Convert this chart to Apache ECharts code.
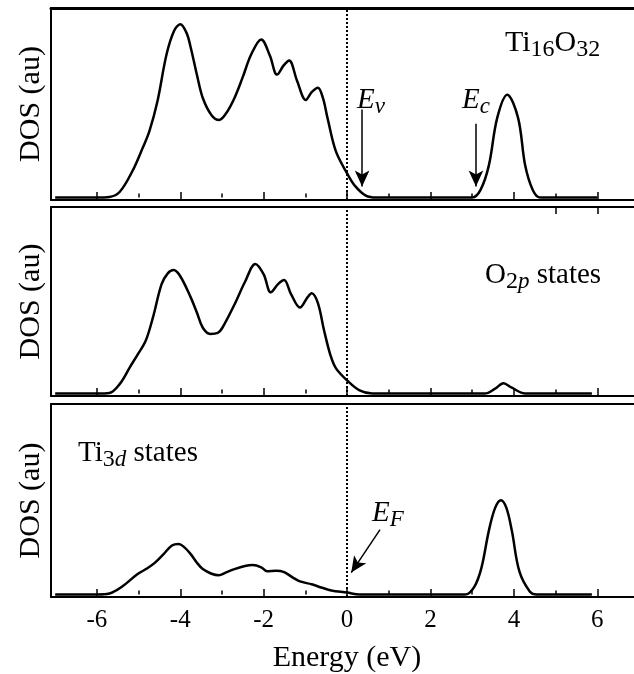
<!DOCTYPE html>
<html>
<head>
<meta charset="utf-8">
<script src="https://cdn.jsdelivr.net/npm/echarts@6/dist/echarts.min.js"></script>
<style>
    html, body { margin: 0; padding: 0; background: #fff; }
    #chartbox { width: 634px; height: 674px; }
</style>
</head>
<body>
<div id="chartbox"></div>
<script>
// energy (eV) and DOS (au), one pair of arrays per panel
const totalE = [-7.0,-6.0,-5.7,-5.45,-5.15,-4.9,-4.74,-4.55,-4.33,-4.15,-4.0,-3.85,-3.75,-3.6,-3.46,-3.25,-3.07,-2.9,-2.7,-2.5,-2.3,-2.06,-1.85,-1.68,-1.52,-1.39,-1.2,-0.99,-0.85,-0.7,-0.58,-0.47,-0.27,0,0.2,0.45,0.7,3.0,3.2,3.4,3.6,3.84,4.1,4.27,4.45,4.62,6.0];
const totalDos = [0,0,0.3,3,13.7,26,34.7,50,74.7,87,90.5,86,78.4,64,52,43,40.5,44,52,63,74.7,82.6,74,64.2,69,71.6,61,51,55,57.4,52,41.6,24.2,12.6,5.8,1,0,0,4,16.8,41.6,53.7,41.6,16.8,4,0,0];

const o2pE = [-7,-6,-5.7,-5.45,-5.2,-5.03,-4.83,-4.65,-4.45,-4.3,-4.16,-4.0,-3.75,-3.6,-3.46,-3.28,-3.1,-2.99,-2.7,-2.45,-2.2,-2.0,-1.83,-1.65,-1.51,-1.35,-1.13,-0.95,-0.85,-0.7,-0.55,-0.4,-0.27,0,0.3,0.6,3.3,3.55,3.75,3.95,4.27,5.87];
const o2pDos = [0,0,0.3,5,14,20,27.4,40,56.8,62.5,64.2,61,50,42,34.2,31,31.5,34.2,46.3,58,67.4,62,52.6,57,59,52,44.7,50,52.1,47,32.6,20,13.2,6.8,1.6,0,0,2.5,5.3,3,0,0];

const ti3dE = [-7,-6,-5.7,-5.4,-5.03,-4.8,-4.62,-4.4,-4.2,-4.04,-3.9,-3.75,-3.6,-3.46,-3.25,-3.08,-2.9,-2.7,-2.45,-2.26,-2.05,-1.92,-1.7,-1.51,-1.3,-1.13,-0.85,-0.6,-0.38,0,0.3,2.83,3.05,3.22,3.4,3.55,3.69,3.82,3.95,4.13,4.38,4.55,5.87];
const ti3dDos = [0,0,0.5,4,10.5,13.5,16.3,21,25.5,26.3,24.5,21,16.5,13.2,10.8,10,11.5,13.2,14.8,15.3,14,12.1,12.3,11.6,8.8,6.8,5.3,3.5,2.1,1,0,0,4,13.7,33.2,45,49,45,33.2,12.1,1.6,0,0];

const majorTicks = [-6,-4,-2,0,2,4,6];
const minorTicks = [-5,-3,-1,1,3,5];
const labelValues = [-6,-4,-2,0,2,4,6];

const font = "Liberation Serif";
const zip = (xs, ys) => xs.map((x, i) => [x, ys[i]]);

const rects = [
    { left: 51, top: 8, width: 583, height: 192 },
    { left: 51, top: 207, width: 583, height: 189 },
    { left: 51, top: 404, width: 583, height: 193 },
];
const ymax = [99, 97, 99];
const xmin = -7.1, xmax = 6.88;

// main grids 0..2, copies 3..5 only carry the short ticks
const grids = rects.concat(rects).map((r) => Object.assign({ show: false }, r));

const xAxes = [];
const yAxes = [];
rects.forEach((r, i) => {
    xAxes.push({
        type: "value", gridIndex: i, position: "bottom", min: xmin, max: xmax,
        axisLine: { show: true, onZero: false, lineStyle: { color: "#000", width: 2 } },
        axisTick: { show: true, inside: true, length: 8, customValues: majorTicks, lineStyle: { color: "#000", width: 1.5 } },
        axisLabel: { show: i == 2, customValues: labelValues, color: "#000", fontFamily: font, fontSize: 25, margin: 11 },
        splitLine: { show: false },
    });
    xAxes.push({
        type: "value", gridIndex: i, position: "top", min: xmin, max: xmax,
        axisLine: { show: true, onZero: false, lineStyle: { color: "#000", width: i == 0 ? 3 : 2 } },
        axisTick: { show: i == 1, inside: true, length: 7, customValues: [5, 6], lineStyle: { color: "#000", width: 1.5 } },
        axisLabel: { show: false },
        splitLine: { show: false },
    });
    yAxes.push({
        type: "value", gridIndex: i, min: -1.3, max: ymax[i],
        name: "DOS (au)", nameLocation: "middle", nameRotate: 90, nameGap: 5,
        nameTextStyle: { color: "#000", fontFamily: font, fontSize: 30 },
        axisLine: { show: true, onZero: false, lineStyle: { color: "#000", width: 2 } },
        axisTick: { show: false },
        axisLabel: { show: false },
        splitLine: { show: false },
    });
});
rects.forEach((r, i) => {
    xAxes.push({
        type: "value", gridIndex: i + 3, position: "bottom", min: xmin, max: xmax,
        axisLine: { show: false },
        axisTick: { show: true, inside: true, length: 4, customValues: minorTicks, lineStyle: { color: "#000", width: 1.5 } },
        axisLabel: { show: false },
        splitLine: { show: false },
    });
    yAxes.push({ type: "value", gridIndex: i + 3, show: false, min: -1.3, max: ymax[i] });
});

const zeroLine = { xAxis: 0, lineStyle: { type: "dotted", color: "#000", width: 2 }, label: { show: false } };
const arrow = (x1, y1, x2, y2) => [
    { coord: [x1, y1], symbol: "none", lineStyle: { type: "solid", color: "#000", width: 1.5 }, label: { show: false } },
    { coord: [x2, y2], symbol: "arrow", symbolSize: [11, 16] },
];

const makeLine = (i, data, marks) => ({
    type: "line",
    xAxisIndex: i * 2,
    yAxisIndex: i,
    data: data,
    smooth: 0.35,
    showSymbol: false,
    lineStyle: { color: "#000", width: 2.5 },
    markLine: { silent: true, symbol: "none", animation: false, data: marks },
});

const txt = (x, y, text, rich, extra) => ({
    type: "text",
    x: x,
    y: y,
    z: 10,
    style: Object.assign({
        text: text,
        fill: "#000",
        fontFamily: font,
        fontSize: 29,
        verticalAlign: "middle",
        rich: rich || {},
    }, extra || {}),
});
const sub = { fontFamily: font, fontSize: 24, padding: [14, 0, 0, 0] };
const subIt = { fontFamily: font, fontSize: 23, fontStyle: "italic", padding: [13, 0, 0, 0] };
const it = { fontFamily: font, fontSize: 29, fontStyle: "italic" };

const myChart = echarts.init(document.getElementById("chartbox"));
const option = {
    animation: false,
    backgroundColor: "#fff",
    grid: grids,
    xAxis: xAxes,
    yAxis: yAxes,
    series: [
        makeLine(0, zip(totalE, totalDos), [zeroLine, arrow(0.36, 46, 0.36, 5.7), arrow(3.09, 38.5, 3.09, 5.7)]),
        makeLine(1, zip(o2pE, o2pDos), [zeroLine]),
        makeLine(2, zip(ti3dE, ti3dDos), [zeroLine, arrow(0.79, 33.7, 0.1, 11.4)]),
    ],
    graphic: [
        txt(505, 43, "Ti{s|16}O{s|32}", { s: sub }, { fontSize: 30 }),
        txt(357, 100, "{i|E}{si|v}", { i: it, si: subIt }),
        txt(462, 100, "{i|E}{si|c}", { i: it, si: subIt }),
        txt(485, 275, "O{s|2}{si|p} states", { s: sub, si: subIt }),
        txt(78, 453, "Ti{s|3}{si|d} states", { s: sub, si: subIt }),
        txt(372, 513, "{i|E}{si|F}", { i: it, si: subIt }),
        txt(347, 658, "Energy (eV)", null, { align: "center", fontSize: 30 }),
    ],
};
option && myChart.setOption(option);
</script>
</body>
</html>
